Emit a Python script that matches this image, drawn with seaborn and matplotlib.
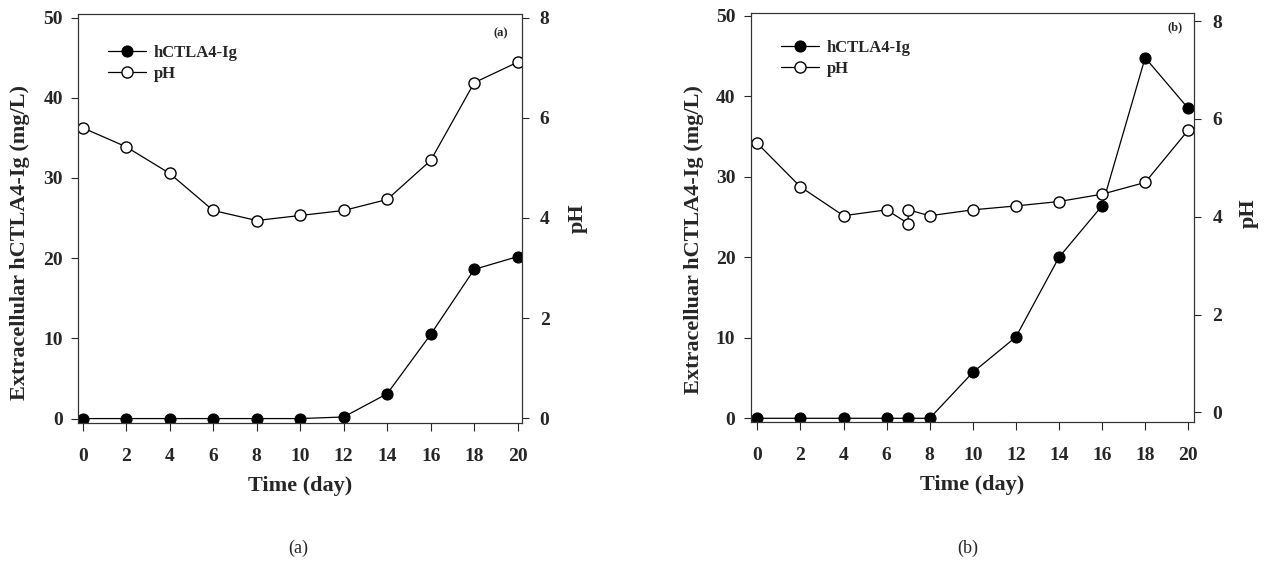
import numpy as np
import pandas as pd
import matplotlib
matplotlib.use('Agg')
import matplotlib.pyplot as plt
import seaborn as sns

# panel (a)
days_a = [0, 2, 4, 6, 8, 10, 12, 14, 16, 18, 20]
ctla_a = [0, 0, 0, 0, 0, 0, 0.2, 3.1, 10.5, 18.6, 20.2]
ph_a = [5.8, 5.42, 4.89, 4.15, 3.95, 4.05, 4.15, 4.37, 5.15, 6.7, 7.11]

# panel (b) - two samples at day 7
days_b = [0, 2, 4, 6, 7, 8, 10, 12, 14, 16, 18, 20]
ctla_b = [0, 0, 0, 0, 0, 0, 5.7, 10.1, 20.0, 26.4, 44.8, 38.5]
days_ph_b = [0, 2, 4, 6, 7, 7, 8, 10, 12, 14, 16, 18, 20]
ph_b = [5.5, 4.61, 4.02, 4.14, 3.86, 4.14, 4.02, 4.14, 4.22, 4.31, 4.46, 4.70, 5.77]

day_ticks = list(range(0, 21, 2))
ctla_ticks = list(range(0, 51, 10))
ph_ticks = list(range(0, 9, 2))

sns.set_style('ticks')
plt.rcParams['font.family'] = ['Liberation Serif', 'DejaVu Serif']
plt.rcParams['font.weight'] = 'bold'
plt.rcParams['axes.labelweight'] = 'bold'

fig = plt.figure(figsize=(12.65, 5.63), dpi=100)

panels = [
    dict(rect=[0.0619, 0.2487, 0.3505, 0.7273], days=days_a, ctla=ctla_a,
         ph_days=days_a, ph=ph_a, ylab='Extracellular hCTLA4-Ig (mg/L)',
         ylim=(-0.55, 50.5), ph_lim=(-0.09, 8.08), xlim=(-0.2, 20.18),
         tag='(a)', tag_xy=(0.953, 0.952), cap='(a)', cap_x=298 / 1265,
         ylab_xy=(-0.108, 0.44), phlab_xy=(1.104, 0.5), leg_xy=(0.066, 0.924)),
    dict(rect=[0.5934, 0.251, 0.3507, 0.7256], days=days_b, ctla=ctla_b,
         ph_days=days_ph_b, ph=ph_b, ylab='Extracelluar hCTLA4-Ig (mg/L)',
         ylim=(-0.42, 50.33), ph_lim=(-0.19, 8.16), xlim=(-0.31, 20.28),
         tag='(b)', tag_xy=(0.957, 0.966), cap='(b)', cap_x=968 / 1265,
         ylab_xy=(-0.105, 0.447), phlab_xy=(1.101, 0.51), leg_xy=(0.068, 0.934)),
]

for p in panels:
    ax = fig.add_axes(p['rect'])
    ax2 = ax.twinx()

    df_c = pd.DataFrame({'day': p['days'], 'val': p['ctla']})
    df_p = pd.DataFrame({'day': p['ph_days'], 'val': p['ph']})

    sns.lineplot(data=df_c, x='day', y='val', ax=ax, color='black', linewidth=0.9,
                 marker='o', markersize=8, markerfacecolor='black', markeredgecolor='black',
                 estimator=None, sort=False, label='hCTLA4-Ig')
    sns.lineplot(data=df_p, x='day', y='val', ax=ax2, color='black', linewidth=0.9,
                 marker='o', markersize=8, markerfacecolor='white', markeredgecolor='black',
                 markeredgewidth=1.0, estimator=None, sort=False, label='pH')

    h1, l1 = ax.get_legend_handles_labels()
    h2, l2 = ax2.get_legend_handles_labels()
    ax.get_legend().remove()
    ax2.get_legend().remove()
    ax2.legend(h1 + h2, l1 + l2, loc='upper left', bbox_to_anchor=p['leg_xy'],
               frameon=False, borderpad=0, borderaxespad=0, handlelength=2.3,
               handletextpad=0.45, labelspacing=0.3,
               prop={'family': 'Liberation Serif', 'weight': 'bold', 'size': 12})

    ax.set_xlim(*p['xlim'])
    ax.set_ylim(*p['ylim'])
    ax2.set_ylim(*p['ph_lim'])
    ax.set_xticks(day_ticks)
    ax.set_yticks(ctla_ticks)
    ax2.set_yticks(ph_ticks)

    ax.set_xlabel('Time (day)', fontsize=16, fontweight='bold', labelpad=8)
    ax.set_ylabel(p['ylab'], fontsize=16, fontweight='bold')
    ax.yaxis.set_label_coords(*p['ylab_xy'])
    ax2.set_ylabel('pH', fontsize=16, fontweight='bold')
    ax2.yaxis.set_label_coords(*p['phlab_xy'])

    ax.tick_params(axis='x', direction='out', length=6, width=0.8, pad=12, labelsize=14)
    ax.tick_params(axis='y', direction='out', length=5, width=0.8, pad=6, labelsize=14)
    ax2.tick_params(axis='y', direction='out', length=5, width=0.8, pad=8, labelsize=14)
    for a in (ax, ax2):
        for lab in a.get_xticklabels() + a.get_yticklabels():
            lab.set_fontweight('bold')
        for s in a.spines.values():
            s.set_visible(True)
            s.set_linewidth(0.8)
            s.set_color('#333333')

    ax.text(p['tag_xy'][0], p['tag_xy'][1], p['tag'], transform=ax.transAxes,
            ha='center', va='center', fontsize=9, fontweight='bold')
    fig.text(p['cap_x'], 1 - 548 / 563, p['cap'], ha='center', va='center',
             fontsize=13, fontweight='normal')

fig.savefig('out.png', dpi=100)
